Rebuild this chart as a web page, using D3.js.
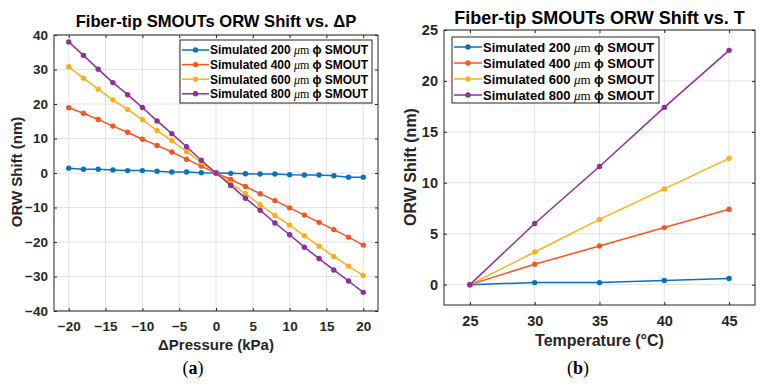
<!DOCTYPE html>
<html>
<head>
    <title>Fiber-tip SMOUTs ORW Shift</title>
    <script src="https://d3js.org/d3.v7.min.js"></script>
    <style>
        html, body {
            margin: 0;
            background: #fff;
            overflow: hidden;
        }
        svg text {
            font-family: "Liberation Sans", Arial, sans-serif;
        }
    </style>
</head>
<body>
    <div id="chart"></div>

    <script>
        // ---- data ----
        const seriesNames = ["200", "400", "600", "800"];
        const seriesColors = ["#0a72bd", "#fb5420", "#fbb018", "#8e2f9c"];

        // (a) pressure sweep
        const pressure = [-20, -18, -16, -14, -12, -10, -8, -6, -4, -2, 0, 2, 4, 6, 8, 10, 12, 14, 16, 18, 20];
        const shiftP200 = [1.4, 1.1, 1.1, 0.9, 0.7, 0.7, 0.5, 0.3, 0.3, 0.1, 0, -0.1, -0.2, -0.3, -0.3, -0.5, -0.6, -0.6, -0.8, -1.2, -1.2];
        const shiftP400 = [18.9, 17.3, 15.5, 13.6, 11.8, 9.8, 8.0, 6.1, 4.0, 2.0, 0, -1.9, -3.9, -6.0, -8.0, -10.1, -12.2, -14.3, -16.4, -18.6, -20.9];
        const shiftP600 = [30.8, 27.5, 24.3, 21.2, 18.4, 15.5, 12.3, 9.4, 6.2, 3.1, 0, -3.0, -6.0, -9.2, -12.3, -15.1, -18.2, -21.2, -24.2, -27.0, -29.7];
        const shiftP800 = [38.0, 34.1, 30.1, 26.2, 22.7, 19.0, 15.1, 11.4, 7.6, 3.7, 0, -3.6, -7.3, -10.8, -14.5, -17.9, -21.5, -24.8, -28.1, -31.3, -34.6];
        const pressureTicks = [-20, -15, -10, -5, 0, 5, 10, 15, 20];
        const pressureYTicks = [-40, -30, -20, -10, 0, 10, 20, 30, 40];

        // (b) temperature sweep
        const temperature = [25, 30, 35, 40, 45];
        const shiftT200 = [0, 0.2, 0.2, 0.4, 0.6];
        const shiftT400 = [0, 2.0, 3.8, 5.6, 7.4];
        const shiftT600 = [0, 3.2, 6.4, 9.4, 12.4];
        const shiftT800 = [0, 6.0, 11.6, 17.4, 23.0];
        const tempTicks = [25, 30, 35, 40, 45];
        const tempYTicks = [0, 5, 10, 15, 20, 25];

        const W = 764, H = 387;
        const axisColor = "#262626";
        const gridColor = "#e3e3e3";

        const svg = d3.select("#chart")
            .append("svg")
            .attr("width", W)
            .attr("height", H);

        const fmt = d => d < 0 ? "\u2212" + Math.abs(d) : d;

        function drawPanel(p) {
            const x = d3.scaleLinear().domain(p.xDomain).range([p.left, p.right]);
            const y = d3.scaleLinear().domain(p.yDomain).range([p.bottom, p.top]);
            const g = svg.append("g");

            // grid
            g.selectAll(".gx").data(p.xTicks).join("line")
                .attr("x1", d => x(d)).attr("x2", d => x(d))
                .attr("y1", p.top).attr("y2", p.bottom)
                .attr("stroke", gridColor).attr("stroke-width", 1);
            g.selectAll(".gy").data(p.yTicks).join("line")
                .attr("x1", p.left).attr("x2", p.right)
                .attr("y1", d => y(d)).attr("y2", d => y(d))
                .attr("stroke", gridColor).attr("stroke-width", 1);

            // axes (ticks inside, MATLAB style)
            const tk = 3;
            const styleText = a => a.selectAll("text").attr("fill", axisColor)
                .attr("font-size", p.tickFs).attr("font-weight", "bold")
                .attr("font-family", "Liberation Sans, Arial, sans-serif");
            g.append("g").attr("transform", `translate(0,${p.bottom})`)
                .call(d3.axisBottom(x).tickValues(p.xTicks).tickSizeInner(-tk).tickSizeOuter(0).tickFormat(fmt))
                .call(a => a.select(".domain").remove())
                .call(a => a.selectAll("line").attr("stroke", axisColor))
                .call(styleText)
                .call(a => a.selectAll("text").attr("y", p.xTickDy).attr("dy", null));
            g.append("g").attr("transform", `translate(0,${p.top})`)
                .call(d3.axisTop(x).tickValues(p.xTicks).tickSizeInner(-tk).tickSizeOuter(0).tickFormat(""))
                .call(a => a.select(".domain").remove())
                .call(a => a.selectAll("line").attr("stroke", axisColor));
            g.append("g").attr("transform", `translate(${p.left},0)`)
                .call(d3.axisLeft(y).tickValues(p.yTicks).tickSizeInner(-tk).tickSizeOuter(0).tickFormat(fmt))
                .call(a => a.select(".domain").remove())
                .call(a => a.selectAll("line").attr("stroke", axisColor))
                .call(styleText)
                .call(a => a.selectAll("text").attr("x", -6));
            g.append("g").attr("transform", `translate(${p.right},0)`)
                .call(d3.axisRight(y).tickValues(p.yTicks).tickSizeInner(-tk).tickSizeOuter(0).tickFormat(""))
                .call(a => a.select(".domain").remove())
                .call(a => a.selectAll("line").attr("stroke", axisColor));

            g.append("rect")
                .attr("x", p.left).attr("y", p.top)
                .attr("width", p.right - p.left).attr("height", p.bottom - p.top)
                .attr("fill", "none").attr("stroke", axisColor).attr("stroke-width", 1);

            // series
            const line = d3.line().x(d => x(d[0])).y(d => y(d[1]));
            p.series.forEach((vals, i) => {
                const pts = p.xs.map((xv, j) => [xv, vals[j]]);
                g.append("path").datum(pts)
                    .attr("d", line)
                    .attr("fill", "none")
                    .attr("stroke", seriesColors[i])
                    .attr("stroke-width", 1.5);
                g.selectAll(null).data(pts).join("circle")
                    .attr("cx", d => x(d[0])).attr("cy", d => y(d[1]))
                    .attr("r", 2.7)
                    .attr("fill", seriesColors[i]);
            });

            // title
            g.append("text")
                .attr("x", (p.left + p.right) / 2).attr("y", p.titleY)
                .attr("text-anchor", "middle")
                .attr("font-size", p.titleFs).attr("font-weight", "bold").attr("fill", "#000")
                .text(p.title);

            // axis labels
            g.append("text")
                .attr("x", (p.left + p.right) / 2).attr("y", p.xLabelY)
                .attr("text-anchor", "middle")
                .attr("font-size", p.labelFs).attr("font-weight", "bold").attr("fill", axisColor)
                .text(p.xLabel);
            g.append("text")
                .attr("transform", `translate(${p.yLabelX},${p.yLabelY}) rotate(-90)`)
                .attr("text-anchor", "middle")
                .attr("font-size", p.labelFs).attr("font-weight", "bold").attr("fill", axisColor)
                .text("ORW Shift (nm)");

            // panel letter
            g.append("text")
                .attr("x", p.letterX).attr("y", 374)
                .attr("text-anchor", "middle")
                .style("font-family", "'Liberation Serif', serif")
                .attr("font-size", 18).attr("fill", "#000")
                .html(`(<tspan font-weight="bold">${p.letter}</tspan>)`);

            // legend
            const L = p.legend;
            const lg = g.append("g");
            lg.append("rect")
                .attr("x", L.x).attr("y", L.y).attr("width", L.w).attr("height", L.h)
                .attr("fill", "#fff").attr("stroke", axisColor).attr("stroke-width", 1);
            seriesNames.forEach((name, i) => {
                const cy = L.y + L.first + i * L.step;
                lg.append("line")
                    .attr("x1", L.x + 2).attr("x2", L.x + L.sample)
                    .attr("y1", cy).attr("y2", cy)
                    .attr("stroke", seriesColors[i]).attr("stroke-width", 1.5);
                lg.append("circle")
                    .attr("cx", L.x + 2 + (L.sample - 2) / 2).attr("cy", cy).attr("r", 2.7)
                    .attr("fill", seriesColors[i]);
                const t = lg.append("text")
                    .attr("x", L.x + L.sample + 1).attr("y", cy + L.fs * 0.36)
                    .attr("font-size", L.fs).attr("font-weight", "bold").attr("fill", "#000");
                t.append("tspan").text(`Simulated ${name} `);
                t.append("tspan").style("font-family", "'Liberation Serif', serif")
                    .attr("font-weight", "normal").attr("font-style", "italic").text("\u03bc");
                t.append("tspan").style("font-family", "'Liberation Serif', serif")
                    .attr("font-weight", "normal").text("m ");
                t.append("tspan").text("\u03d5 SMOUT");
            });
        }

        drawPanel({
            left: 54, right: 378, top: 35, bottom: 311,
            xDomain: [-22, 22], yDomain: [-40, 40],
            xTicks: pressureTicks, yTicks: pressureYTicks,
            xs: pressure, series: [shiftP200, shiftP400, shiftP600, shiftP800],
            title: "Fiber-tip SMOUTs ORW Shift vs. \u0394P", titleY: 27, titleFs: 16.6,
            tickFs: 13.5, xTickDy: 20, labelFs: 15,
            xLabel: "\u0394Pressure (kPa)", xLabelY: 350, yLabelX: 22, yLabelY: 172,
            letter: "a", letterX: 193,
            legend: { x: 180, y: 40, w: 192, h: 63, first: 10, step: 14.6, sample: 29, fs: 12 }
        });

        drawPanel({
            left: 444, right: 755, top: 30, bottom: 305,
            xDomain: [23, 47], yDomain: [-2, 25],
            xTicks: tempTicks, yTicks: tempYTicks,
            xs: temperature, series: [shiftT200, shiftT400, shiftT600, shiftT800],
            title: "Fiber-tip SMOUTs ORW Shift vs. T", titleY: 24, titleFs: 18,
            tickFs: 14.5, xTickDy: 21, labelFs: 16,
            xLabel: "Temperature (\u00b0C)", xLabelY: 346, yLabelX: 416, yLabelY: 167,
            letter: "b", letterX: 578,
            legend: { x: 452, y: 37, w: 207, h: 66, first: 10, step: 16, sample: 30, fs: 13 }
        });
    </script>
</body>
</html>
